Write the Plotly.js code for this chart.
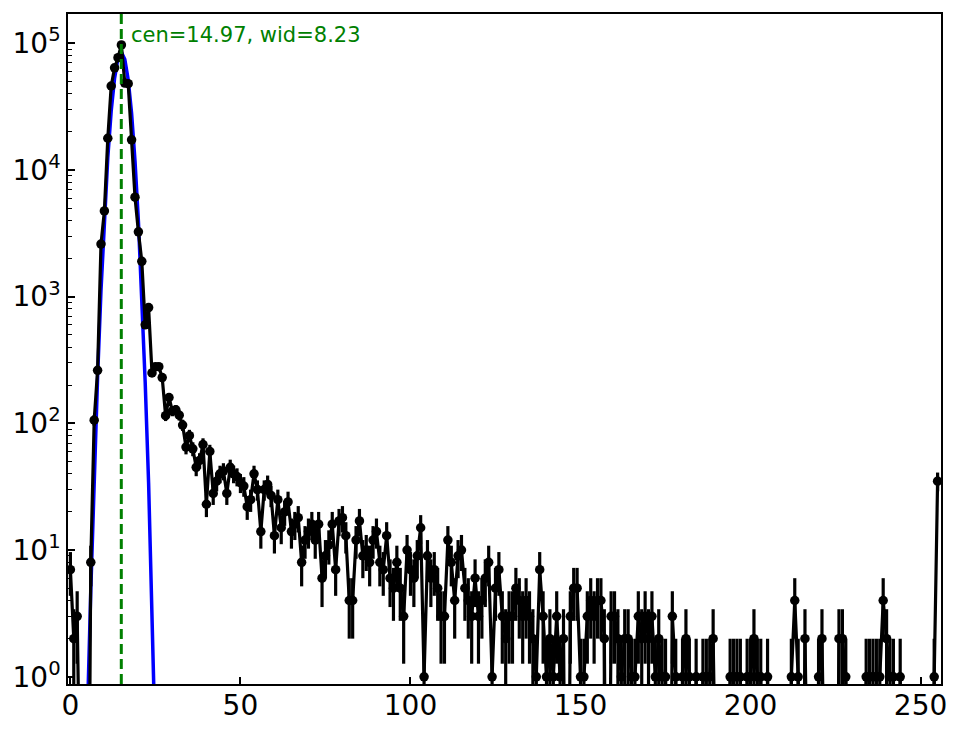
<!DOCTYPE html>
<html>
<head>
<meta charset="utf-8">
<script src="https://cdn.plot.ly/plotly-3.0.1.min.js"></script>
<style>
  html, body { margin: 0; padding: 0; background: #ffffff; }
  #hist_graph { width: 964px; height: 729px; }
</style>
</head>
<body>
<div id="hist_graph"></div>
<script>
// counts per bin, bins 0..255
const counts = [
  7, 2, 3, 0, 0, 0, 8, 106, 262, 2600,
  4750, 17800, 46000, 64000, 77000, 97000, 48500, 48000, 17300, 6100,
  3250, 1900, 600, 820, 250, 280, 280, 230, 115, 160,
  125, 128, 116, 97, 65, 80, 63, 45, 51, 68,
  23, 60, 28, 35, 40, 42, 28, 45, 40, 38,
  34, 32, 22, 25, 40, 30, 14, 30, 33, 27,
  13, 25, 15, 20, 24, 14, 16, 18, 8, 12,
  14, 16, 12, 16, 6, 9, 11, 16, 7, 17,
  18, 13, 4, 4, 12, 17, 9, 10, 8, 12,
  14, 8, 7, 13, 6, 5, 8, 5, 3, 10,
  7, 6, 9, 15, 1, 9, 6, 7, 5, 3,
  3, 12, 8, 4, 9, 10, 5, 4, 3, 6,
  3, 4, 6, 8, 1, 5, 7, 3, 2, 3,
  3, 5, 4, 3, 4, 3, 2, 1, 7, 3,
  1, 2, 1, 3, 1, 2, 0, 3, 5, 5,
  1, 1, 3, 4, 3, 4, 4, 2, 0, 3,
  3, 2, 1, 2, 2, 1, 1, 3, 2, 3,
  2, 3, 1, 2, 1, 1, 0, 3, 1, 0,
  1, 2, 1, 0, 1, 0, 1, 1, 1, 2,
  0, 0, 0, 0, 1, 1, 1, 1, 0, 1,
  1, 2, 1, 1, 0, 1, 0, 0, 0, 0,
  0, 0, 1, 4, 1, 0, 2, 0, 0, 0,
  1, 2, 0, 0, 0, 0, 2, 2, 1, 0,
  0, 0, 0, 0, 1, 1, 1, 1, 1, 4,
  2, 1, 1, 0, 1, 0, 0, 0, 0, 0,
  0, 0, 0, 0, 1, 35
];
const bins = counts.map((c, i) => i);

// gaussian fit
const fitCen = 14.97;
const fitWid = 8.23;
const fitX = [3, 4, 5, 6, 7, 8, 9, 10, 11, 12, 13, 14, 15, 16, 17, 18, 19, 20, 21, 22, 23, 24, 25, 26, 27];
const fitY = [0.0023, 0.038, 0.48, 4.8, 38, 232, 1120, 4240, 12500, 29200, 53100, 75900, 85100,
              74800, 51600, 27900, 11800, 3940, 1030, 210, 34, 4.2, 0.42, 0.032, 0.002];

const xTicks = [0, 50, 100, 150, 200, 250];
const yTicks = [1, 10, 100, 1000, 10000, 100000];
const yTickText = ["10<sup>0</sup>", "10<sup>1</sup>", "10<sup>2</sup>", "10<sup>3</sup>", "10<sup>4</sup>", "10<sup>5</sup>"];

// minor log ticks 2..9 in each decade
const yMinor = [];
yTicks.forEach(d => { for (let k = 2; k <= 9; k++) yMinor.push(d * k); });

// zeros get pushed far below the axis, like matplotlib's log clipping
const plotY = counts.map(c => (c > 0 ? c : 1e-3));
const errs = counts.map(c => Math.sqrt(c));

const tickFont = { family: "DejaVu Sans", size: 28, color: "black" };

const fit = {
  x: fitX,
  y: fitY,
  type: "scatter",
  mode: "lines",
  line: { color: "#0000ff", width: 3.5 },
  hoverinfo: "skip",
};

const data = {
  x: bins,
  y: plotY,
  type: "scatter",
  mode: "lines+markers",
  line: { color: "black", width: 3.2 },
  marker: { color: "black", size: 9.5 },
  error_y: { type: "data", array: errs, visible: true, color: "black", thickness: 3.2, width: 0 },
};

const layout = {
  width: 964,
  height: 729,
  margin: { t: 14, l: 68, r: 23, b: 45 },
  paper_bgcolor: "white",
  plot_bgcolor: "white",
  showlegend: false,
  xaxis: {
    range: [-0.7, 256],
    tickmode: "array",
    tickvals: xTicks,
    ticks: "inside",
    ticklen: 7,
    tickwidth: 1.5,
    tickcolor: "black",
    ticklabelstandoff: -4,
    showline: true,
    linecolor: "black",
    linewidth: 1.5,
    mirror: true,
    showgrid: false,
    zeroline: false,
    tickfont: tickFont,
  },
  yaxis: {
    type: "log",
    range: [-0.057, 5.231],
    tickmode: "array",
    tickvals: yTicks,
    ticktext: yTickText,
    ticks: "inside",
    ticklen: 7,
    tickwidth: 1.5,
    tickcolor: "black",
    minor: { tickmode: "array", tickvals: yMinor, ticks: "inside", ticklen: 4, tickwidth: 1.2, tickcolor: "black", showgrid: false },
    showline: true,
    linecolor: "black",
    linewidth: 1.5,
    mirror: true,
    showgrid: false,
    zeroline: false,
    tickfont: tickFont,
  },
  shapes: [{
    type: "line",
    xref: "x", yref: "paper",
    x0: fitCen, x1: fitCen, y0: 0, y1: 1,
    line: { color: "#008000", width: 3, dash: "10px,5px" },
    layer: "above",
  }],
  annotations: [{
    xref: "paper", yref: "paper",
    x: 0.07, y: 0.969,
    xanchor: "left", yanchor: "middle",
    showarrow: false,
    text: "cen=" + fitCen.toFixed(2) + ", wid=" + fitWid.toFixed(2),
    font: { family: "DejaVu Sans", size: 21, color: "#008000" },
  }],
};

Plotly.newPlot("hist_graph", [fit, data], layout, { displayModeBar: false, responsive: false });
</script>
</body>
</html>
